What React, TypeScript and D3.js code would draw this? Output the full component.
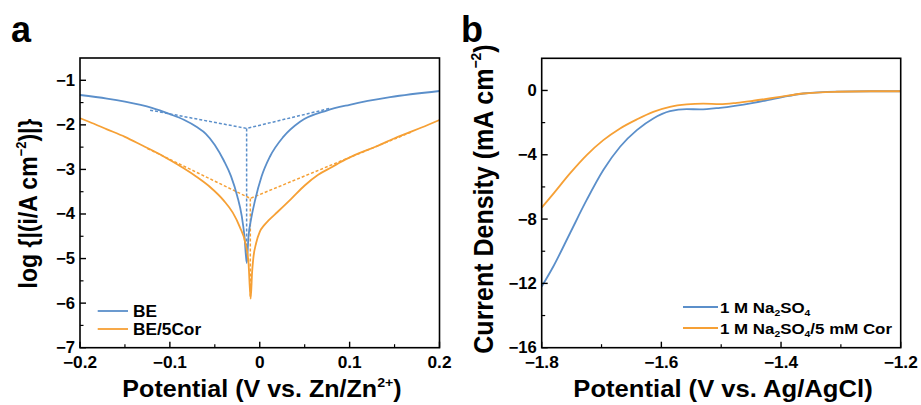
import React from "react";
import * as d3 from "d3";

// ---------- Panel a data (Tafel) ----------
const beX = [-0.2, -0.17, -0.15, -0.12, -0.1, -0.085, -0.07, -0.06, -0.05, -0.04, -0.032, -0.025, -0.02, -0.017, -0.0145,
  -0.0125, -0.0095, -0.0053, 0.002, 0.0114, 0.0262, 0.0448, 0.0745, 0.1, 0.145, 0.2];
const beY = [-1.33, -1.41, -1.48, -1.62, -1.76, -1.88, -2.05, -2.2, -2.45, -2.8, -3.15, -3.6, -4.05, -4.5, -5.1,
  -4.5, -4.1, -3.7, -3.16, -2.71, -2.27, -1.93, -1.68, -1.55, -1.38, -1.24];
const corX = [-0.2, -0.19, -0.17, -0.15, -0.13, -0.115, -0.1, -0.085, -0.07, -0.055, -0.04, -0.03, -0.022, -0.016, -0.0125, -0.0101,
  -0.0085, -0.0072, -0.004, 0.0, 0.005, 0.0095, 0.02, 0.035, 0.05, 0.065, 0.08, 0.095, 0.11, 0.13, 0.15, 0.165, 0.18, 0.2];
const corY = [-1.85, -1.93, -2.1, -2.27, -2.47, -2.62, -2.79, -2.97, -3.17, -3.4, -3.7, -3.97, -4.3, -4.65, -5.1, -5.9,
  -5.3, -5.0, -4.65, -4.4, -4.25, -4.15, -3.95, -3.66, -3.36, -3.12, -2.95, -2.78, -2.64, -2.48, -2.3, -2.18, -2.06, -1.89];
// Tafel fit lines
const beFitX = [-0.122, -0.0146, 0.078];
const beFitY = [-1.67, -2.08, -1.63];
const beVertX = [-0.0146, -0.0146];
const beVertY = [-2.08, -5.1];
const corFitX = [-0.125, -0.0105, 0.17];
const corFitY = [-2.53, -3.65, -2.15];
const corVertX = [-0.0105, -0.0105];
const corVertY = [-3.65, -5.9];

const aXTicks = [-0.2, -0.1, 0, 0.1, 0.2];
const aXMinor = [-0.15, -0.05, 0.05, 0.15];
const aYTicks = [-7, -6, -5, -4, -3, -2, -1];
const aYMinor = [-6.5, -5.5, -4.5, -3.5, -2.5, -1.5];

// ---------- Panel b data (LSV) ----------
const naX = [-1.8, -1.7806, -1.7527, -1.7248, -1.697, -1.669, -1.641, -1.6135, -1.5856, -1.5577, -1.5355, -1.502, -1.4463, -1.4017, -1.3627, -1.307, -1.25, -1.2];
const naY = [-12.2, -10.95, -8.88, -6.81, -4.95, -3.5, -2.47, -1.74, -1.29, -1.16, -1.18, -1.08, -0.77, -0.44, -0.19, -0.07, -0.05, -0.05];
const corbX = [-1.8, -1.78, -1.7527, -1.7248, -1.697, -1.669, -1.641, -1.6135, -1.5856, -1.5577, -1.53, -1.502, -1.474, -1.446, -1.4017, -1.3627, -1.307, -1.25, -1.2];
const corbY = [-7.29, -6.4, -5.16, -4.02, -3.09, -2.36, -1.8, -1.33, -1.02, -0.87, -0.82, -0.85, -0.77, -0.64, -0.4, -0.19, -0.08, -0.05, -0.05];

const bXTicks = [-1.8, -1.6, -1.4, -1.2];
const bXMinor = [-1.7, -1.5, -1.3];
const bYTicks = [-16, -12, -8, -4, 0];
const bYMinor = [-14, -10, -6, -2];

const BLUE = "#5b8fca";
const ORANGE = "#f6a035";
const FONT = "'Liberation Sans', Arial, sans-serif";
const SX = 1.08; // horizontal glyph stretch seen in the reference

const fmt = (v: number) => (v < 0 ? "\u2212" + String(Math.abs(v)) : String(v));

type Pt = [number, number];
const zip = (xs: number[], ys: number[]): Pt[] => xs.map((x, i) => [x, ys[i]]);

function ST(props: any) {
  const { x, y, sx = SX, rot, children, ...rest } = props;
  const tr = `translate(${x},${y}) scale(${sx},1)` + (rot ? ` rotate(${rot})` : "");
  return (
    <text transform={tr} fontWeight="bold" fontFamily={FONT} {...rest}>
      {children}
    </text>
  );
}

function Axes(props: {
  x: d3.ScaleLinear<number, number>;
  y: d3.ScaleLinear<number, number>;
  xt: number[]; xm: number[]; yt: number[]; ym: number[];
}) {
  const { x, y, xt, xm, yt, ym } = props;
  const [x0, x1] = x.range();
  const [y0, y1] = y.range();
  return (
    <g>
      <rect x={x0} y={y1} width={x1 - x0} height={y0 - y1} fill="none" stroke="#000" strokeWidth={1.6} />
      {xt.map((t) => (
        <g key={"xt" + t}>
          <line x1={x(t)} x2={x(t)} y1={y0} y2={y0 - 6} stroke="#000" strokeWidth={1.4} />
          <ST x={x(t)} y={368} textAnchor="middle" fontSize={16}>{fmt(t)}</ST>
        </g>
      ))}
      {xm.map((t) => (
        <line key={"xm" + t} x1={x(t)} x2={x(t)} y1={y0} y2={y0 - 3.5} stroke="#000" strokeWidth={1.2} />
      ))}
      {yt.map((t) => (
        <g key={"yt" + t}>
          <line x1={x0} x2={x0 + 6} y1={y(t)} y2={y(t)} stroke="#000" strokeWidth={1.4} />
          <ST x={x0 - 5} y={y(t) + 5.5} sx={1.04} textAnchor="end" fontSize={16}>{fmt(t)}</ST>
        </g>
      ))}
      {ym.map((t) => (
        <line key={"ym" + t} x1={x0} x2={x0 + 3.5} y1={y(t)} y2={y(t)} stroke="#000" strokeWidth={1.2} />
      ))}
    </g>
  );
}

export default function App() {
  // Panel a
  const ax = d3.scaleLinear().domain([-0.2, 0.2]).range([80, 439.5]);
  const ay = d3.scaleLinear().domain([-7, -0.5]).range([347.7, 58]);
  const aLine = d3.line<Pt>().x((d) => ax(d[0])).y((d) => ay(d[1])).curve(d3.curveMonotoneX);
  const aStraight = d3.line<Pt>().x((d) => ax(d[0])).y((d) => ay(d[1]));
  // Panel b
  const bx = d3.scaleLinear().domain([-1.8, -1.2]).range([541.7, 900.7]);
  const by = d3.scaleLinear().domain([-16, 2]).range([347.7, 58.3]);
  const bLine = d3.line<Pt>().x((d) => bx(d[0])).y((d) => by(d[1])).curve(d3.curveMonotoneX);

  return (
    <svg width={921} height={405} style={{ position: "absolute", left: 0, top: 0, background: "#fff" }} fontFamily={FONT}>
      <rect width={921} height={405} fill="#fff" />
      {/* Panel letters */}
      <ST x={11} y={42} sx={1.0} fontSize={36}>a</ST>
      <ST x={461} y={42} sx={1.0} fontSize={36}>b</ST>

      {/* ===== Panel a ===== */}
      <g>
        <path d={aStraight(zip(beFitX, beFitY)) || ""} fill="none" stroke={BLUE} strokeWidth={1.5} strokeDasharray="3,2" />
        <path d={aStraight(zip(beVertX, beVertY)) || ""} fill="none" stroke={BLUE} strokeWidth={1.5} strokeDasharray="3,2" />
        <path d={aStraight(zip(corFitX, corFitY)) || ""} fill="none" stroke={ORANGE} strokeWidth={1.5} strokeDasharray="3,2" />
        <path d={aStraight(zip(corVertX, corVertY)) || ""} fill="none" stroke={ORANGE} strokeWidth={1.5} strokeDasharray="3,2" />
        <path d={aLine(zip(beX, beY)) || ""} fill="none" stroke={BLUE} strokeWidth={1.8} />
        <path d={aLine(zip(corX, corY)) || ""} fill="none" stroke={ORANGE} strokeWidth={1.8} />
        <Axes x={ax} y={ay} xt={aXTicks} xm={aXMinor} yt={aYTicks} ym={aYMinor} />
        {/* legend */}
        <line x1={97.7} x2={128} y1={311} y2={311} stroke={BLUE} strokeWidth={1.8} />
        <ST x={133} y={316.5} fontSize={16}>BE</ST>
        <line x1={97.7} x2={128} y1={329} y2={329} stroke={ORANGE} strokeWidth={1.8} />
        <ST x={133} y={334.5} fontSize={16}>BE/5Cor</ST>
        {/* axis titles */}
        <ST x={262} y={397} sx={1.09} textAnchor="middle" fontSize={23}>
          Potential (V vs. Zn/Zn<tspan fontSize={13} dy={-10}>2+</tspan><tspan dy={10}>)</tspan>
        </ST>
        <ST x={37} y={203.5} sx={1.1} rot={-90} textAnchor="middle" fontSize={23}>
          log {"{"}|(i/A cm<tspan fontSize={13} dy={-10}>{"\u22122"}</tspan><tspan dy={10}>){"|}"}</tspan>
        </ST>
      </g>

      {/* ===== Panel b ===== */}
      <g>
        <path d={bLine(zip(naX, naY)) || ""} fill="none" stroke={BLUE} strokeWidth={1.8} />
        <path d={bLine(zip(corbX, corbY)) || ""} fill="none" stroke={ORANGE} strokeWidth={1.8} />
        <Axes x={bx} y={by} xt={bXTicks} xm={bXMinor} yt={bYTicks} ym={bYMinor} />
        <line x1={683} x2={718} y1={307} y2={307} stroke={BLUE} strokeWidth={1.8} />
        <ST x={720} y={312.5} sx={1.09} fontSize={15.5}>
          1 M Na<tspan fontSize={9.5} dy={3}>2</tspan><tspan dy={-3}>SO</tspan><tspan fontSize={9.5} dy={3}>4</tspan>
        </ST>
        <line x1={683} x2={718} y1={328} y2={328} stroke={ORANGE} strokeWidth={1.8} />
        <ST x={720} y={333.5} sx={1.09} fontSize={15.5}>
          1 M Na<tspan fontSize={9.5} dy={3}>2</tspan><tspan dy={-3}>SO</tspan><tspan fontSize={9.5} dy={3}>4</tspan><tspan dy={-3}>/5 mM Cor</tspan>
        </ST>
        <ST x={723} y={397} sx={1.09} textAnchor="middle" fontSize={23.5}>Potential (V vs. Ag/AgCl)</ST>
        <ST x={493} y={199} sx={1.1} rot={-90} textAnchor="middle" fontSize={25}>
          Current Density (mA cm<tspan fontSize={14} dy={-11}>{"\u22122"}</tspan><tspan dy={11}>)</tspan>
        </ST>
      </g>
    </svg>
  );
}
